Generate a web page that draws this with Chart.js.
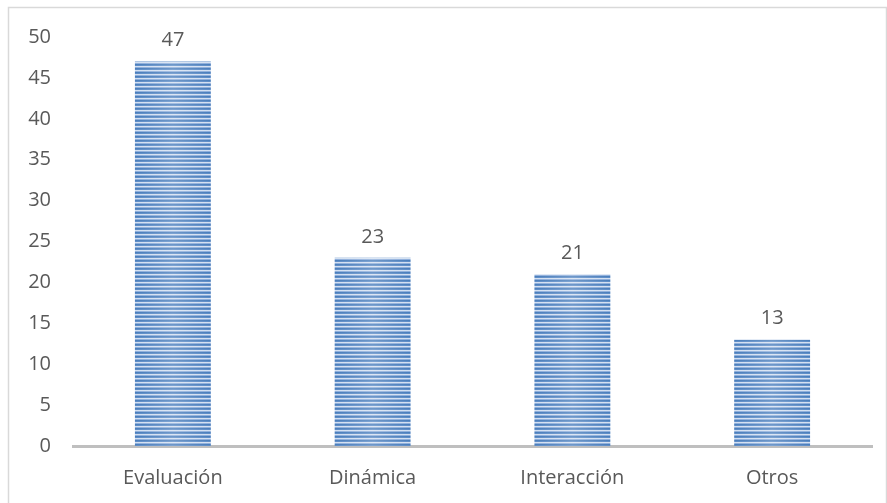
<!DOCTYPE html>
<html>
<head>
<meta charset="utf-8">
<script src="https://cdn.jsdelivr.net/npm/chart.js@4"></script>
<style>
  html, body { margin: 0; padding: 0; background: #fff; }
  #wrap { width: 887px; height: 503px; }
</style>
</head>
<body>
<div id="wrap"><canvas id="chart" width="887" height="503"></canvas></div>
<script>
// ─── Data ─────────────────────────────────────────────────────────
const categories = ['Evaluación', 'Dinámica', 'Interacción', 'Otros'];
const counts = [47, 23, 21, 13];
const yTicks = [0, 5, 10, 15, 20, 25, 30, 35, 40, 45, 50];

const FONT = "'Open Sans', 'Liberation Sans', sans-serif";
const TEXT = '#595959';
const SIZE = 20;

// horizontal stripe fill like the Office "narrow horizontal" pattern
function stripePattern(ctx) {
    const c = document.createElement('canvas');
    c.width = 1;
    c.height = 4;
    const p = c.getContext('2d');
    const rows = ['#4a7ebb', '#5d8cc7', '#d3e0f1', '#8eaedb'];
    rows.forEach((col, i) => { p.fillStyle = col; p.fillRect(0, i, 1, 1); });
    return ctx.createPattern(c, 'repeat');
}

// light frame round the whole chart
const framePlugin = {
    id: 'frame',
    beforeDraw(chart) {
        const { ctx } = chart;
        ctx.save();
        ctx.strokeStyle = '#d9d9d9';
        ctx.lineWidth = 1.5;
        ctx.strokeRect(8.5, 7.5, 878, 520);
        ctx.restore();
    },
};

// soft lighter centre on each bar + value label above it
const barLabels = {
    id: 'barLabels',
    afterDatasetsDraw(chart) {
        const { ctx } = chart;
        const meta = chart.getDatasetMeta(0);
        ctx.save();
        meta.data.forEach((bar, i) => {
            const half = bar.width / 2;
            const g = ctx.createLinearGradient(bar.x - half, 0, bar.x + half, 0);
            g.addColorStop(0, 'rgba(255,255,255,0)');
            g.addColorStop(0.5, 'rgba(255,255,255,0.2)');
            g.addColorStop(1, 'rgba(255,255,255,0)');
            ctx.fillStyle = g;
            ctx.fillRect(bar.x - half, bar.y, bar.width, bar.base - bar.y);

            ctx.fillStyle = TEXT;
            ctx.font = SIZE + 'px ' + FONT;
            ctx.textAlign = 'center';
            ctx.textBaseline = 'middle';
            ctx.fillText(String(counts[i]), bar.x, bar.y - 21);
        });
        ctx.restore();
    },
};

const canvas = document.getElementById('chart');
const ctx2d = canvas.getContext('2d');

new Chart(canvas, {
    type: 'bar',
    data: {
        labels: categories,
        datasets: [{
            data: counts,
            backgroundColor: stripePattern(ctx2d),
            borderWidth: 0,
            categoryPercentage: 1,
            barPercentage: 0.38,
        }],
    },
    options: {
        responsive: false,
        animation: false,
        layout: { padding: { left: 8, right: 15, top: 37, bottom: 0 } },
        plugins: { legend: { display: false }, tooltip: { enabled: false } },
        scales: {
            x: {
                grid: { display: false, drawTicks: false },
                border: { display: true, color: '#bfbfbf', width: 3 },
                ticks: { color: TEXT, font: { family: FONT, size: SIZE }, padding: 20 },
                afterFit: (s) => { s.height = 57; },
            },
            y: {
                min: 0,
                max: 50,
                afterBuildTicks: (s) => { s.ticks = yTicks.map((v) => ({ value: v })); },
                grid: { display: false, drawTicks: false },
                border: { display: false },
                ticks: { color: TEXT, font: { family: FONT, size: SIZE }, padding: 22 },
                afterFit: (s) => { s.width = 65; },
            },
        },
    },
    plugins: [framePlugin, barLabels],
});
</script>
</body>
</html>
